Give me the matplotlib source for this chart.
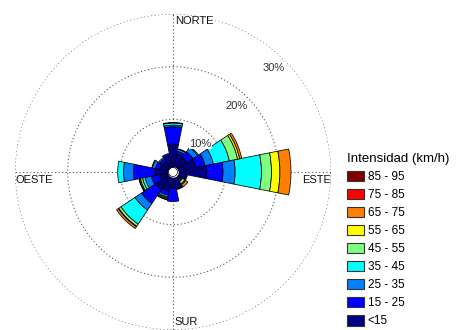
import numpy as np
import matplotlib
matplotlib.use("Agg")
import matplotlib.pyplot as plt

plt.rcParams['font.family'] = ['Liberation Sans', 'DejaVu Sans']

# Wind directions (compass degrees, clockwise from north)
directions = ['N', 'NNE', 'NE', 'ENE', 'E', 'ESE', 'SE', 'SSE',
              'S', 'SSW', 'SW', 'WSW', 'W', 'WNW', 'NW', 'NNW']
direction_deg = np.arange(len(directions)) * 22.5

# Speed classes (km/h) and their colours
speed_labels = ['<15', '15 - 25', '25 - 35', '35 - 45', '45 - 55',
                '55 - 65', '65 - 75', '75 - 85', '85 - 95']
speed_colors = ['#000080', '#0000ff', '#0080ff', '#00ffff', '#80ff80',
                '#ffff00', '#ff8000', '#ff0000', '#800000']

# Frequency (%) of each speed class, by direction (N, NNE, ..., NNW)
freq_lt15 = [5.3, 3.5, 3.2, 4.4, 6.4, 2.6, 1.6, 3.2, 3.1, 3.7, 4.0, 2.6, 3.4, 2.5, 2.4, 3.2]
freq_15_25 = [3.3, 0.5, 1.4, 1.8, 3.1, 0.2, 0.2, 0.2, 2.5, 0.8, 3.2, 1.6, 4.1, 0.9, 0.6, 0.4]
freq_25_35 = [0.3, 0.4, 1.0, 1.6, 2.3, 0.0, 0.2, 0.0, 0.0, 0.4, 1.5, 1.2, 1.9, 0.6, 0.3, 0.0]
freq_35_45 = [0.4, 0.1, 0.2, 3.1, 5.0, 0.0, 0.2, 0.0, 0.0, 0.2, 3.2, 0.5, 1.1, 0.1, 0.0, 0.0]
freq_45_55 = [0.1, 0.0, 0.0, 1.6, 1.9, 0.0, 0.5, 0.0, 0.0, 0.2, 0.5, 0.4, 0.0, 0.0, 0.0, 0.0]
freq_55_65 = [0.0, 0.0, 0.0, 0.4, 1.6, 0.0, 0.2, 0.0, 0.0, 0.1, 0.1, 0.2, 0.0, 0.0, 0.0, 0.0]
freq_65_75 = [0.0, 0.0, 0.0, 0.4, 2.1, 0.0, 0.5, 0.0, 0.0, 0.0, 0.4, 0.1, 0.0, 0.0, 0.0, 0.0]
freq_75_85 = [0.0] * 16
freq_85_95 = [0.0] * 16

freq_table = [freq_lt15, freq_15_25, freq_25_35, freq_35_45, freq_45_55,
              freq_55_65, freq_65_75, freq_75_85, freq_85_95]

ring_values = [10, 20, 30]
ring_labels = ['10%', '20%', '30%']
cardinal_labels = ['NORTE', 'ESTE', 'SUR', 'OESTE']

fig = plt.figure(figsize=(4.57, 3.30), dpi=100)
ax = fig.add_axes([15 / 457, 0.0, 316 / 457, 316 / 330], projection='polar')
ax.set_theta_zero_location('N')
ax.set_theta_direction(-1)
ax.set_ylim(0, 30)
ax.grid(False)
ax.set_xticks([])
ax.set_yticks([])
ax.spines['polar'].set_visible(False)
ax.set_facecolor('none')

grid_kw = dict(color='#555555', linewidth=0.8, linestyle=(0, (1, 2.2)), zorder=0.5)
tt = np.linspace(0, 2 * np.pi, 400)
for rv in ring_values:
    ax.plot(tt, np.full_like(tt, rv), **grid_kw)
for ang in [0, 90, 180, 270]:
    ax.plot([np.deg2rad(ang)] * 2, [0, ring_values[-1]], **grid_kw)

theta = np.deg2rad(direction_deg)
width = np.deg2rad(22.5)
bottom = np.zeros(len(directions))
handles = []
for vals, col, lab in zip(freq_table, speed_colors, speed_labels):
    vals = np.asarray(vals)
    bars = ax.bar(theta, vals, width=width, bottom=bottom, color=col,
                  edgecolor='black', linewidth=np.where(vals > 0, 0.55, 0.0),
                  label=lab, zorder=2)
    handles.append(bars)
    bottom = bottom + vals

# centre hole
ax.fill_between(tt, 0, 0.85, color='white', zorder=3)
ax.plot(tt, np.full_like(tt, 0.85), color='black', linewidth=0.5, zorder=3)

# ring labels
for rv, rl in zip(ring_values, ring_labels):
    ax.text(np.deg2rad(44), rv - 2.5, rl, fontsize=8, color='#333333',
            ha='center', va='center', zorder=4,
            bbox=dict(facecolor='white', edgecolor='none', pad=0.6))

# cardinal labels
ax.annotate(cardinal_labels[0], xy=(0, 28.7), xytext=(1.5, 0), textcoords='offset points',
            ha='left', va='center', fontsize=8, color='#111111')
ax.annotate(cardinal_labels[2], xy=(np.pi, 28.4), xytext=(1, 0), textcoords='offset points',
            ha='left', va='center', fontsize=8, color='#111111')
ax.annotate(cardinal_labels[1], xy=(np.pi / 2, 30), xytext=(0, -6), textcoords='offset points',
            ha='right', va='center', fontsize=8, color='#111111')
ax.annotate(cardinal_labels[3], xy=(3 * np.pi / 2, 30), xytext=(0, -6), textcoords='offset points',
            ha='left', va='center', fontsize=8, color='#111111')

leg = fig.legend(handles[::-1], speed_labels[::-1], title='Intensidad (km/h)',
                 loc='upper left', bbox_to_anchor=(347 / 457, 1 - 153 / 330),
                 frameon=False, fontsize=8.5, title_fontsize=9.5,
                 handlelength=1.45, handleheight=0.95, handletextpad=0.3,
                 labelspacing=0.5, borderpad=0, borderaxespad=0, alignment='left')
for h in leg.legend_handles:
    h.set_edgecolor('#333333')
    h.set_linewidth(0.8)

fig.savefig('out.png', dpi=100)
